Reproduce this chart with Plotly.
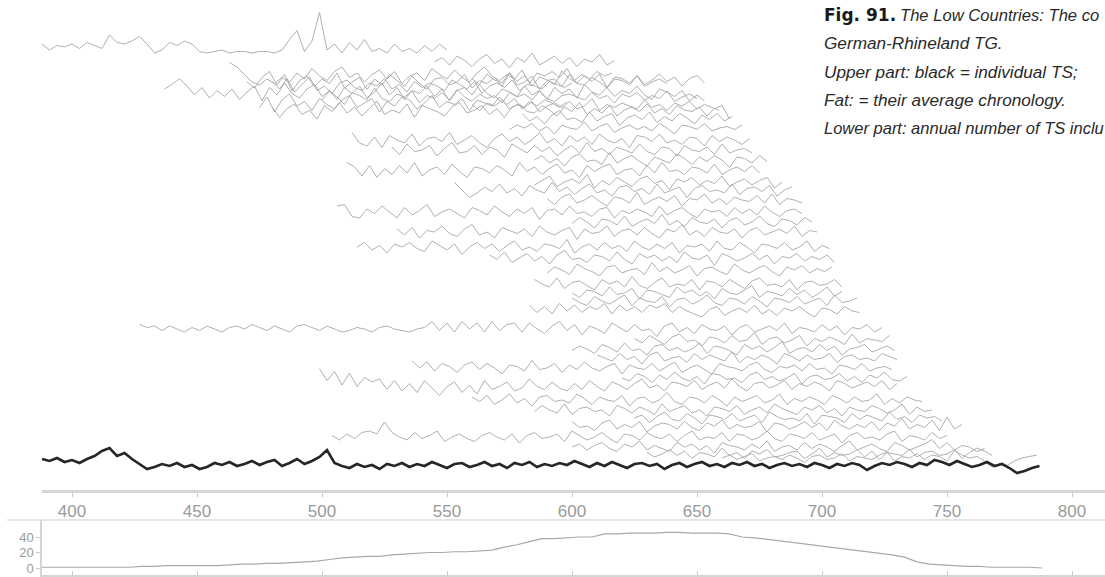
import plotly.graph_objects as go

# ---------------- data ----------------
STEP = 3  # years between readings

# individual tree-ring series: first year, vertical stacking level, readings (deviation, up = +)
ts_start = [388, 437, 463, 470, 475, 480, 545, 560, 580, 512,
            528, 510, 585, 585, 553, 506, 590, 600, 530, 514,
            567, 590, 585, 600, 600, 583, 427, 625, 600, 610,
            536, 620, 499, 560, 585, 625, 600, 504, 600, 630,
            660, 480, 500, 560, 575]
ts_level = [47, 92, 76, 82, 103, 110, 62, 80, 118, 140,
            150, 170, 160, 182, 190, 212, 200, 222, 232, 247,
            258, 270, 284, 293, 301, 311, 329, 340, 349, 358,
            368, 378, 385, 400, 410, 418, 426, 437, 447, 454,
            458, 86, 97, 106, 128]
ts_values = [
    [2,-2,1,0,2,-1,3,1,-1,8,3,2,4,7,2,-4,-2,3,1,4,2,-3,-4,-3,-2,-4,-3,-3,-4,-3,-3,-4,-2,5,11,-3,4,23,-2,2,-4,3,-2,5,-3,-1,-4,2,-3,-1,-4,1,-3,2,-2],
    [2,5,9,4,-2,3,-4,1,-3,2,-5,0,4,-6,3,-2,6,-1,-4,2,5,-3,1,-5,3,-1,4,-4,0,6,-2,3,-5,1,-1,4,-3,2,-6,1,3,-2,5,-1,-4,2,0,-3,4,-2,1,-5,3,-1,2,-4,5,0,-2,3,-3,1,-1,4,-2,-5,2,0,-3,1,-6,-2,-6],
    [9,6,1,-4,-6,-2,-5,-1,-4,2,-2,5,0,-3,3,6,-1,2,-4,1,4,-2,3,-5,0,2,-3,5,1,-2,4,-1,-4,2,6,0,-3,1,-2,4,-5,2,0,3,-1,5,-3,1,-2,3,0,2],
    [0,-4,3,7,-2,5,-6,1,4,-3,2,-1,6,-4,0,3,-5,2,-2,5,1,-3,4,-1,-5,2,3,-2,0,5,-4,1,-1,3,-3,6,-2,0,4,-5,1,2,-3,5,-1,-2,3,0,-4,2,1,-2,4,-3,0,2,-1],
    [-3,4,-6,2,6,-2,1,-5,3,-1,-4,2,5,-3,0,3,-6,1,-2,4,2,-4,0,5,-3,1,-1,3,-5,2,0,-2,4,-1,3,-4,1,-2,2,0,-3,1],
    [2,-5,1,4,-3,0,-6,3,-1,5,-2,2,-4,1,6,-3,0,-2,4,-5,3,1,-1,-4,2,5,-2,0,3,-3,1,-5,2,4,-1,-2,3,0,-4,2,-1,5,-3,1,-2,3,-4,0,2,-1,4,-2,1,-3,3,0,-1,2,-4,1,3,-6],
    [0,3,-2,4,1,-3,2,5,-1,2,-4,3,0,6,-2,1,4,-1,3,-3,2,0,5,-2,1],
    [1,-3,4,0,-2,5,-1,3,-4,2,0,-3,6,1,-2,3,-1,4,-5,2,1,-2,3,-3,0,4,-1,2,-4,1,3,-2],
    [3,-2,1,-4,2,5,-1,0,-3,4,-2,1,3,-5,0,2,-1,4,-3,1,-2,3,0,-4,2,-1,3,-2,1],
    [5,-2,-4,2,-5,3,0,-2,4,-4,1,2,-1,5,-3,0,3,-2,-5,1,4,-1,2,-3,0,5,-2,1,-4,3,-1,2,-3,4,0,-2,1,-5,3,2,-1,4,-2,0,-3,2,1,-4,3,-1,2,0,-3,1],
    [2,-3,4,-1,0,3,-4,1,5,-2,-1,3,-3,2,0,-5,4,1,-2,3,-1,2,-4,0,3,-2,5,-1,1,-3,2,0,-2,4,-1,-3,2,1,-4,3,0,-1,2,-3,4,-2,0,1,-2],
    [5,2,-4,3,-5,1,-3,3,-2,5,-4,0,2,-3,4,-1,-5,2,1,-2,3,0,-4,5,-1,2,-3,1,4,-2,0,-5,3,-1,2,4,-3,0,1,-4,3,-2,5,-1,0,-3,2,1,-2,4,-3,0,2,-1,3,-2],
    [0,3,-2,1,-4,2,4,-1,0,-3,5,-2,1,3,-1,-4,2,0,-2,4,1,-3,2,-1,3,0,-5,2,1,-2,3,-1],
    [-2,1,4,-3,0,2,-1,5,-4,1,-2,3,0,-3,2,4,-1,1,-5,2,0,3,-2,1,-1,4,-3,0,2,-2,1,3,-4,0],
    [5,0,-5,-2,2,-1,4,-2,1,-4,3,0,-2,5,-1,2,-3,1,4,-2,0,-4,2,3,-1,1,-3,4,-2,0,2,-5,1,3,-1,0,-2,4,-3,1,2,-1,3,-4,0,2],
    [4,5,-3,-4,2,-1,4,0,-4,3,-2,1,5,-3,0,2,-1,-4,3,1,-2,4,0,-3,2,-1,3,-5,1,2,-2,4,-1,0,-3,2,3,-4,1,-1,2,0,-3,4,-2,1,3,-1,-4,2,0,1,-3,3,-1,2,-2,4,0,-3,1,2,-1],
    [1,-3,2,4,-2,0,3,-1,-4,2,1,-2,5,-3,0,2,-1,3,-4,1,0,4,-2,1,-3,2,0,-1,3,-2,4,-3,1,0,-2],
    [-1,3,0,-4,2,1,-2,4,-3,0,2,-1,5,-2,1,-3,3,0,-1,2,-4,1,3,-2,0,4,-1,-3,2,1,-2,3,0],
    [2,-2,3,-4,1,0,4,-1,-3,2,5,-2,0,-4,3,1,-1,2,-3,4,0,-2,1,3,-5,2,-1,0,4,-3,1,2,-2,3,-1,-4,2,0,5,-2,1,-3,3,0,-1,2,-4,1,3,-2,0,2,-1,4,-3,1,0],
    [0,3,-2,1,-4,2,0,3,-1,-3,4,1,-2,2,-5,0,3,-1,2,-3,1,4,-2,0,-3,2,1,-1,5,-4,0,2,-2,3,-1,1,-3,4,0,-2,2,-1,3,-4,1,0,2,-3,4,-1,-2,3,0,-4,2,1,-1,3,-2,0,4,-3,1,-1],
    [2,-1,4,-3,0,3,-2,1,-4,2,5,-1,0,-3,2,1,-2,4,-1,-4,3,0,2,-2,1,-3,4,0,-1,2,-5,3,1,-2,0,3,-1,2,-4,1,0,3,-2,1,-1,2,-3],
    [-2,2,0,-3,4,1,-1,-4,2,3,-2,0,1,-3,5,-1,2,-2,0,3,-4,1,2,-1,-3,4,0,-2,1,3,-1,-4,2,0,3,-2,1,-1,2],
    [3,0,-2,4,-3,1,2,-1,-4,3,0,2,-2,5,-1,-3,1,4,-2,0,-1,3,-4,2,1,-2,3,0,-3,2,4,-1,0,-2,3,-4,1,2,-1,0,3,-2],
    [0,-3,2,1,-2,4,-1,0,3,-4,2,1,-1,-3,4,0,2,-2,1,-4,3,0,-1,2,5,-3,1,0,-2,3,-1,2,-3,0,4,-2,1],
    [2,-1,-3,3,0,-2,1,4,-3,2,0,-1,3,-4,1,2,-2,0,4,-1,-3,2,1,-2,3,0,-4,2,1,-1,3,-2,0,2,-3,4,-1,0,2],
    [4,-1,3,-2,5,0,4,-1,3,1,5,-2,4,0,3,-1,4,2,5,-1,3,0,-2,-4,1,3,-3,0,2,-1,4,-2,1,-3,2,0,3,-1,-4,2,1,-2,3,0,-1],
    [3,1,2,-1,2,0,-2,1,-1,2,0,-2,1,2,0,3,1,-1,2,0,-2,2,3,1,-1,2,0,-2,-1,1,0,-2,1,2,0,-1,-2,0,1,5,-1,4,-2,5,0,4,-2,5,-1,3,4,-2,4,0,-3,2,5,-1,3,-4,2,0,-3,4,1,-2,3,-1,0,-5,2,4,-2,1,-3,3,0,-1,2,-4,1,3,-2,0,2,-1,4,-3,1,0,-2,3,-1,2,-4,1,0,3,-2,1],
    [1,-2,3,0,-3,2,4,-1,0,-4,2,1,-2,3,-1,0,5,-3,1,2,-2,0,3,-4,1,-1,2,0,-3,4,-2,1,0,-1,3],
    [-1,2,0,-3,3,1,-2,4,-1,0,-4,2,3,-1,1,-2,0,4,-3,2,1,-1,-4,3,0,2,-2,1,5,-3,0,1,-2,3,-1,2,-4,0,1,3,-2,0,2,-1],
    [2,0,-2,3,-1,1,-4,2,4,-2,0,1,-3,3,-1,2,0,-2,4,-3,1,-1,2,0,-4,3,1,-2,2,-1,0,3,-3,1,2,-1,0,-2,3,1,-1],
    [5,0,4,-2,3,1,-3,2,4,-1,3,0,-4,2,1,-2,5,-1,0,3,-3,2,-1,4,0,-2,1,3,-4,2,0,-1,3,-2,1,4,-3,0,2,-1,-4,3,1,0,-2,2,4,-1,-3,1,0,2,-2,3,-1,0,-4,2,1,-1,3,-2,0,1,-1],
    [0,-2,3,1,-3,2,-1,4,0,-2,1,-4,3,2,-1,0,-3,2,4,-1,1,-2,0,3,-4,1,2,-1,0,3,-2,1,-3,2,0,4,-1,-2,1],
    [11,3,9,0,8,-1,5,2,4,-3,3,-4,1,-5,3,-2,-7,-1,2,-5,0,-6,3,-3,-1,2,-4,-2,4,-1,-3,2,-2,-4,1,-3,3,-1,-4,2,0,-3,1,4,-2,0,-4,2,1,-1,3,-3,0,2,-2,4,-1,-4,1,2,-2,0,3,-3,1,-1,2,0,-4,3,1,-2,0,2,-1,3,-3,1],
    [2,-1,3,-3,0,4,-2,1,-4,2,3,-1,0,-2,4,1,-3,2,0,-1,3,-4,1,2,-2,0,5,-1,-3,2,1,-2,3,0,-4,2,-1,1,3,-2,0,4,-3,1,-1,2,0,-3,3,1,-2,2,-1,0,4,-3,1,-2,2,0,-1],
    [-1,3,0,-2,4,-3,1,2,-1,0,-4,3,1,-2,2,0,-3,4,-1,1,3,-2,0,-4,2,1,-1,3,-3,0,2,-2,4,1,-1,-3,2,0,3,-2,1,-4,2,0,-1,3,1,-2,0,4,-3,2,-1,0],
    [0,2,-3,1,4,-1,-2,3,0,-4,2,1,-1,3,-2,0,2,-3,4,1,-1,0,-2,3,-4,2,1,0,-3,3,-1,2,0,-2,4,-1,1,-3,2,0,1,-2],
    [3,-1,0,-3,2,4,-2,1,-1,3,-4,0,2,1,-2,3,-1,-3,2,0,4,-2,1,-1,0,3,-4,2,1,-2,0,3,-1,2,-3,4,0,-2,1,-1,3,-3,2,0,5,-2,1,-1,4,-3,6,-2,1],
    [1,-2,2,-1,3,4,2,10,3,0,-2,3,-1,1,4,-3,0,2,-1,-3,1,3,0,-2,2,-4,1,3,-1,0,2,-3,4,1,-2,0,3,-1,-4,2,1,-2,3,0,-1,2,-3,1,4,-2,0,-1,3,-3,2,1,-2,0,4,-1,-3,2,1,-1,3,-2,0,2,-4,1,3,-1,0,-2,2,4,-3,1,0,-2,3,-1,1],
    [0,2,-2,1,3,-1,-3,2,0,4,-2,1,-1,-3,3,0,2,-2,1,-4,3,1,0,-2,2,-1,4,-3,0,1,-2,3,-1,2,0,-3,1,4,-2,0,2,-1,-3,3,1,-2,0,2,5,-1,3,-2,1,0,-3,-1],
    [1,-2,0,3,-1,2,-3,1,0,-2,4,-1,1,-3,2,0,3,-2,-1,1,2,-3,0,4,-2,1,-1,0,3,-2,2,-4,1,0,-1,3,-2,1,2,-1,0,3,-3,1,4,2,-1],
    [0,2,-1,1,3,-2,0,1,-1,2,0,-3,1,2,-1,0,3,-2,1,0,-1,2,4,-2,1,0,3,-1,2,1,-2,5,2,0,1,-2,-6,-4,-5,-2,0,1,2],
    [3,-2,5,-4,1,6,-3,0,-5,2,4,-1,-3,2,0,5,-2,1,-4,3,-1,2,0,-3,4,1,-2,3,-5,0,2,-1,4,-3,1,0,-2,3,1,-1,2],
    [-2,4,0,-5,3,1,-2,6,-1,-3,2,0,4,-4,1,-1,3,-2,5,0,-3,2,-1,1,-4,3,0,2,-2,4,-1,-3,1,2,0,-2,3,-1,1,-4,2,0,3,-2,1,-1,4,-3,0,2,-1],
    [1,-3,2,0,4,-2,1,-1,3,-4,0,2,-1,3,-2,0,5,-3,1,-1,2,0,-2,4,-1,1,-3,2,0,3,-2,1,-1,-3],
    [-1,2,0,3,-2,1,-4,2,0,-1,4,-2,1,3,-3,0,2,-1,1,-2,3,0,-4,2,1,-1,3,-2,0,1,-1,2],
]

# average chronology (thick line)
avg_start = 388
avg_level = 462
avg_values = [3,1,4,0,2,-1,3,6,11,14,
              6,9,3,-2,-7,-5,-2,-4,-1,-5,
              -3,-7,-5,-1,-3,0,-4,-2,1,-3,
              0,2,-4,-1,3,-2,1,5,12,-1,
              -4,-6,-2,-5,-3,-7,-2,-4,-1,-5,
              -2,-4,0,-3,-6,-2,-1,-5,-3,0,
              -4,-2,-6,-1,-3,0,-5,-2,-4,-1,
              -3,1,-2,-5,-1,-4,0,-3,-6,-2,
              -1,-4,-2,-7,-3,-1,-5,-2,0,-4,
              -2,-5,-1,-3,0,-4,-2,-6,-3,-1,
              -4,-2,-5,-1,-3,-6,-2,-4,-1,-3,
              -8,-4,-1,-3,0,-2,-5,-1,-3,2,
              0,-3,1,-2,-5,-3,0,-4,-2,-6,
              -11,-9,-6,-4]

# lower panel: annual number of TS
count_years = list(range(388, 791, 5))
count_values = [1,1,1,1,1,1,1,1,2,2,
                3,3,3,3,3,4,5,5,6,6,
                7,8,9,11,13,14,15,15,17,18,
                19,20,20,21,21,22,23,27,30,34,
                38,38,39,40,40,44,44,45,45,45,
                46,46,45,45,45,44,40,39,37,35,
                33,31,29,27,25,23,21,19,17,14,
                8,5,4,3,2,2,1,1,1,1,
                0]

x_ticks = [400, 450, 500, 550, 600, 650, 700, 750, 800]

caption_head = "Fig. 91."
caption_lines = ["The Low Countries: The co",
                 "German-Rhineland TG.",
                 "Upper part: black = individual TS;",
                 "Fat: = their average chronology.",
                 "Lower part: annual number of TS inclu"]

# ---------------- figure ----------------
W, H = 1105, 577
AMP = 1.5  # vertical exaggeration of the individual series
fig = go.Figure()

for st, lv, vals in zip(ts_start, ts_level, ts_values):
    xs = [st + STEP * i for i in range(len(vals))]
    ys = [lv - AMP * v for v in vals]
    fig.add_trace(go.Scatter(x=xs, y=ys, mode="lines",
                             line=dict(color="#a6a6a6", width=0.9),
                             hoverinfo="skip", showlegend=False,
                             xaxis="x", yaxis="y"))

fig.add_trace(go.Scatter(x=[avg_start + STEP * i for i in range(len(avg_values))],
                         y=[avg_level - v for v in avg_values], mode="lines",
                         line=dict(color="#262626", width=2.6),
                         hoverinfo="skip", showlegend=False, xaxis="x", yaxis="y"))

fig.add_trace(go.Scatter(x=count_years, y=count_values, mode="lines",
                         line=dict(color="#a8a8a8", width=1.2),
                         hoverinfo="skip", showlegend=False, xaxis="x2", yaxis="y2"))

def py(p):  # pixel row -> paper y
    return 1 - p / H

def px(p):  # pixel column -> paper x
    return (p - 42) / (W - 42)

tick_font = dict(family="Liberation Sans, Arial, sans-serif", size=17, color="#9a9a9a")
x_range = [388, 400 + (W - 72) / 2.5]
# lower panel: 0 at row 568, 40 at row 537 (panel spans rows 520..575)
unit = (568 - 537) / 40.0
y2_range = [-(575 - 568) / unit, (568 - 520) / unit]

fig.update_layout(
    width=W, height=H,
    margin=dict(l=42, r=0, t=0, b=0, autoexpand=False),
    paper_bgcolor="white", plot_bgcolor="white",
    xaxis=dict(domain=[0, 1], range=x_range, anchor="y",
               tickvals=x_ticks, ticks="outside", ticklen=4, tickcolor="#c8c8c8",
               showline=True, linecolor="#d6d6d6", linewidth=3,
               showgrid=False, zeroline=False, tickfont=tick_font),
    yaxis=dict(domain=[py(490), 1], range=[490, 0], visible=False,
               showgrid=False, zeroline=False),
    xaxis2=dict(domain=[0, 1], range=x_range, anchor="y2",
                tickvals=x_ticks, ticks="inside", ticklen=4, tickcolor="#c8c8c8",
                showticklabels=False, showline=True, linecolor="#d6d6d6", linewidth=3,
                showgrid=False, zeroline=False),
    yaxis2=dict(domain=[py(575), py(520)], range=y2_range, anchor="x2",
                tickvals=[0, 20, 40], ticks="outside", ticklen=4, tickcolor="#c8c8c8",
                showline=True, linecolor="#d6d6d6", linewidth=1.5,
                showgrid=False, zeroline=False, ticklabeloverflow="allow",
                tickfont=dict(family=tick_font["family"], size=13, color="#9a9a9a")),
    shapes=[dict(type="line", xref="paper", yref="paper",
                 x0=px(7), x1=1, y0=py(520), y1=py(520),
                 line=dict(color="#dcdcdc", width=1.5))],
)

cap_family = "Liberation Sans, Arial, sans-serif"
fig.add_annotation(xref="paper", yref="paper", x=px(822), y=py(15),
                   xanchor="left", yanchor="middle", showarrow=False,
                   text="<b>" + caption_head + "</b>",
                   font=dict(family="DejaVu Sans", size=17, color="#1a1a1a"))
line_rows = [15, 43, 72, 100, 128]
line_x = [898, 822, 822, 822, 822]
line_size = [16.6, 17.2, 17.2, 17.2, 16.5]
for txt, row, lx, sz in zip(caption_lines, line_rows, line_x, line_size):
    fig.add_annotation(xref="paper", yref="paper", x=px(lx), y=py(row),
                       xanchor="left", yanchor="middle", showarrow=False,
                       text="<i>" + txt + "</i>",
                       font=dict(family=cap_family, size=sz, color="#2a2a2a"))

fig.write_html("out.html", config={"displayModeBar": False},
               post_script="document.body.style.margin='0px';")
